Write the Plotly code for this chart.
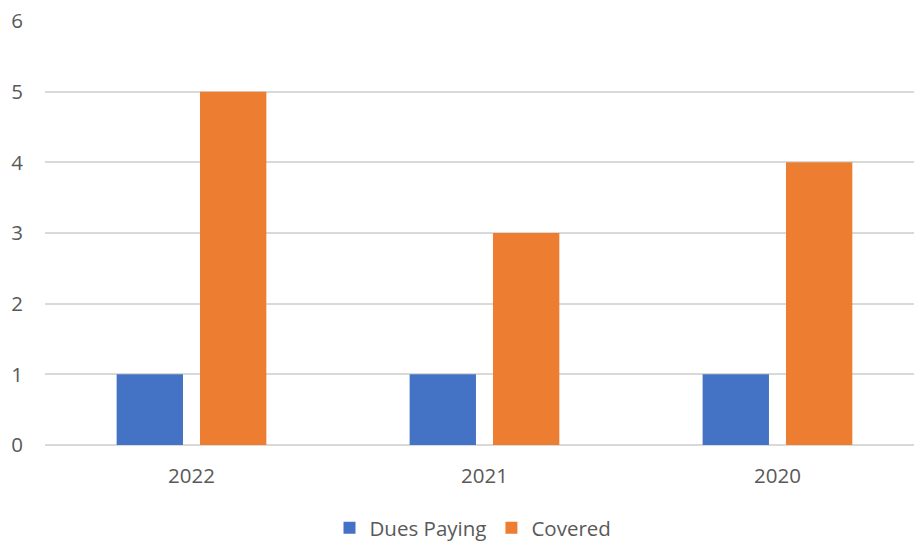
import plotly.graph_objects as go

years = ["2022", "2021", "2020"]
dues_paying = [1, 1, 1]
covered = [5, 3, 4]

text_color = "#595959"
grid_color = "#d9d9d9"
font_family = "Open Sans, Liberation Sans, sans-serif"

fig = go.Figure()
fig.add_trace(go.Bar(x=years, y=dues_paying, name="Dues Paying",
                     marker=dict(color="#4472c4", line=dict(width=0))))
fig.add_trace(go.Bar(x=years, y=covered, name="Covered",
                     marker=dict(color="#ed7d31", line=dict(width=0))))

fig.update_layout(
    width=914, height=543,
    margin=dict(l=45, r=0, t=21, b=98),
    paper_bgcolor="white", plot_bgcolor="white",
    font=dict(family=font_family, size=20.5, color=text_color),
    barmode="group", bargap=0.431, bargroupgap=0.204,
    showlegend=True,
    legend=dict(orientation="h", x=0.5175, xanchor="center",
                y=15 / 543, yanchor="middle",
                xref="container", yref="container",
                font=dict(size=20.5, color=text_color),
                itemwidth=30, tracegroupgap=0),
)
fig.update_xaxes(type="category", range=[-0.5, 2.466], showgrid=False,
                 showline=False, zeroline=False, ticks="",
                 ticklabelstandoff=16, automargin=False)
fig.update_yaxes(range=[0, 6], dtick=1, showgrid=True, gridcolor=grid_color,
                 gridwidth=1.5, zeroline=True, zerolinecolor=grid_color,
                 zerolinewidth=2, showline=False, ticks="",
                 ticklabelstandoff=21, automargin=False)

fig.write_html("out.html")
